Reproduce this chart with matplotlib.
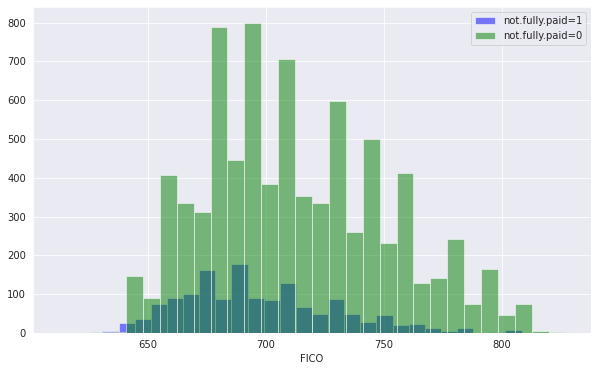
import numpy as np
import matplotlib
matplotlib.use("Agg")
import matplotlib.pyplot as plt
import seaborn as sns

# 数据：直方图计数（bins=30）
# not.fully.paid=1 的 FICO 范围与每个 bin 的计数
PAID1_MIN, PAID1_MAX = 617, 822
PAID1_COUNTS = [0, 0, 6, 27, 37, 76, 91, 101, 163, 88,
                179, 91, 86, 130, 68, 50, 88, 50, 29, 47,
                21, 24, 14, 6, 14, 1, 3, 9, 0, 1]

# not.fully.paid=0
PAID0_MIN, PAID0_MAX = 612, 827
PAID0_COUNTS = [1, 1, 2, 2, 147, 91, 408, 336, 313, 788,
                446, 800, 385, 707, 354, 336, 599, 261, 501, 233,
                411, 130, 143, 243, 76, 166, 47, 76, 5, 3]

LABELS = ['not.fully.paid=1', 'not.fully.paid=0']
N_BINS = 30

sns.set_style('darkgrid')
plt.rcParams['font.family'] = ['DejaVu Sans']

fig = plt.figure(figsize=(598 / 72, 371 / 72), dpi=72)
ax = fig.add_axes([33 / 598, 1 - 333 / 371, 558 / 598, 326 / 371])

edges1 = np.linspace(PAID1_MIN, PAID1_MAX, N_BINS + 1)
edges0 = np.linspace(PAID0_MIN, PAID0_MAX, N_BINS + 1)

ax.hist(edges1[:-1], bins=edges1, weights=PAID1_COUNTS, alpha=0.5,
        color='blue', label=LABELS[0])
ax.hist(edges0[:-1], bins=edges0, weights=PAID0_COUNTS, alpha=0.5,
        color='green', label=LABELS[1])

ax.set_xlabel('FICO')
ax.legend(loc='upper right')

fig.savefig('out.png', dpi=72)
